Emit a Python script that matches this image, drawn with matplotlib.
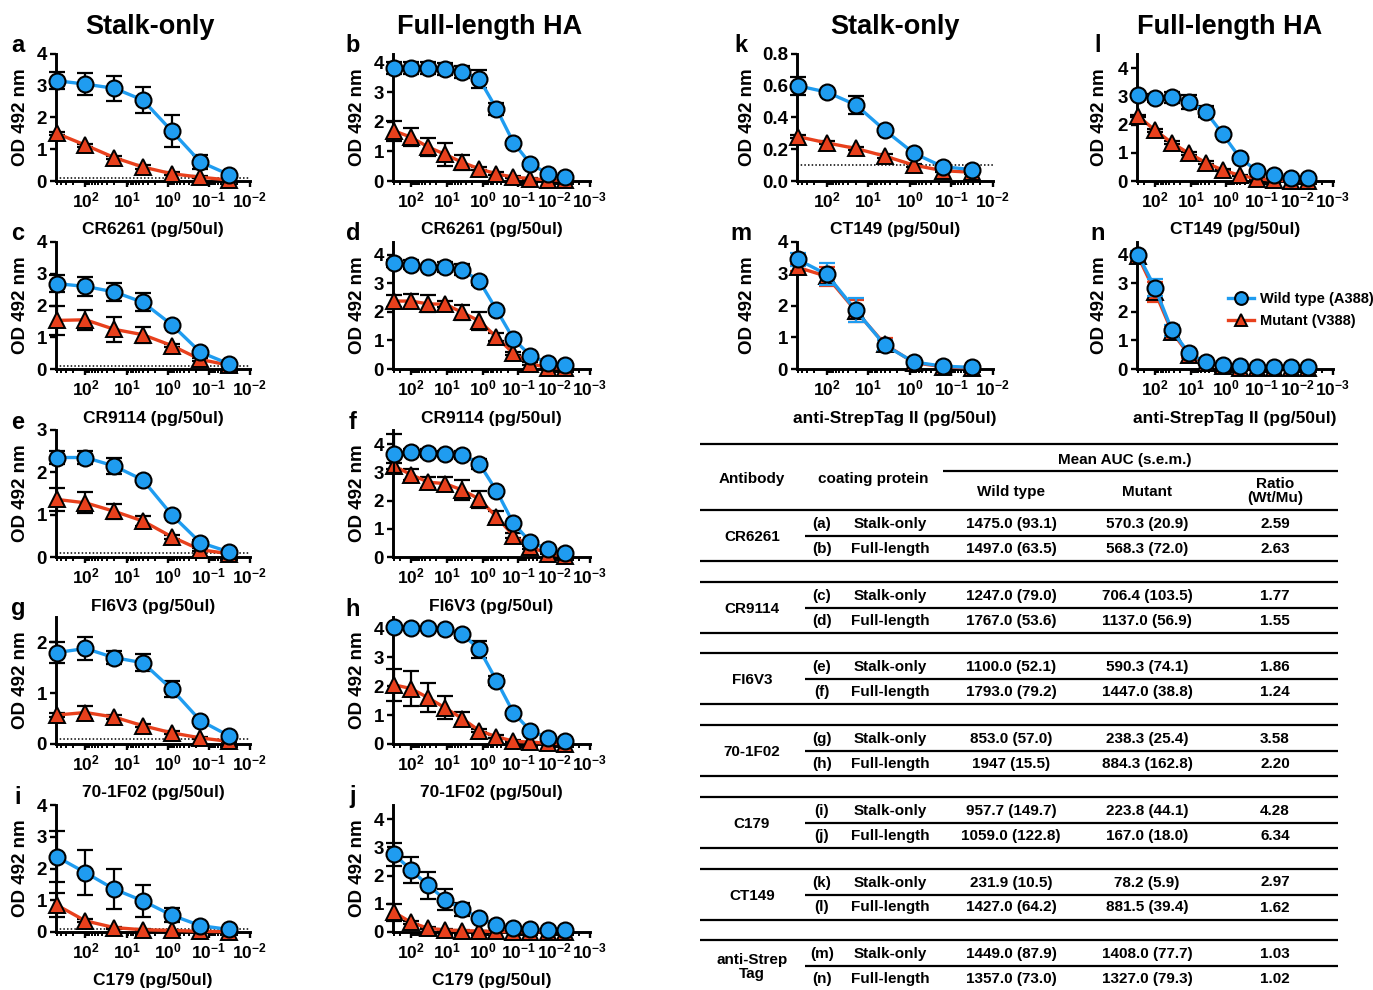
import numpy as np
import matplotlib
matplotlib.use("Agg")
import matplotlib.pyplot as plt
from matplotlib.ticker import LogLocator, FuncFormatter, NullFormatter

plt.rcParams['font.family'] = ['Liberation Sans', 'DejaVu Sans']
plt.rcParams['font.weight'] = 'bold'
plt.rcParams['mathtext.fontset'] = 'custom'
plt.rcParams['mathtext.rm'] = 'Liberation Sans:bold'
plt.rcParams['mathtext.bf'] = 'Liberation Sans:bold'
plt.rcParams['mathtext.it'] = 'Liberation Sans:bold:italic'
plt.rcParams['mathtext.default'] = 'rm'

# ---- data (OD 492 nm, mean and s.e.m.) ----
conc_stalk = [500, 100, 20, 4, 0.8, 0.16, 0.032]
conc_full = [300, 100, 33.3, 11.1, 3.7, 1.23, 0.41, 0.137, 0.046, 0.015, 0.0051]

wt_a = [3.16, 3.05, 2.92, 2.55, 1.58, 0.60, 0.20]
wt_a_err = [0.26, 0.34, 0.39, 0.42, 0.50, 0.23, 0.05]
mu_a = [1.50, 1.13, 0.74, 0.44, 0.23, 0.12, 0.03]
mu_a_err = [0.05, 0.05, 0.05, 0.05, 0.05, 0.03, 0.02]

wt_b = [3.82, 3.82, 3.82, 3.78, 3.70, 3.45, 2.45, 1.30, 0.58, 0.25, 0.13]
wt_b_err = [0.20, 0.20, 0.20, 0.20, 0.20, 0.30, 0.20, 0.05, 0.05, 0.03, 0.03]
mu_b = [1.70, 1.48, 1.15, 0.90, 0.63, 0.41, 0.24, 0.13, 0.08, 0.04, 0.02]
mu_b_err = [0.33, 0.30, 0.30, 0.40, 0.25, 0.05, 0.05, 0.03, 0.03, 0.02, 0.02]

wt_c = [2.69, 2.60, 2.43, 2.10, 1.40, 0.53, 0.16]
wt_c_err = [0.27, 0.30, 0.28, 0.28, 0.05, 0.05, 0.03]
mu_c = [1.53, 1.55, 1.25, 1.08, 0.74, 0.30, 0.12]
mu_c_err = [0.45, 0.32, 0.40, 0.25, 0.05, 0.05, 0.03]

wt_d = [3.70, 3.66, 3.57, 3.58, 3.48, 3.08, 2.08, 1.05, 0.47, 0.22, 0.13]
wt_d_err = [0.12, 0.15, 0.05, 0.18, 0.20, 0.15, 0.05, 0.05, 0.10, 0.03, 0.03]
mu_d = [2.38, 2.38, 2.28, 2.27, 1.98, 1.68, 1.12, 0.55, 0.18, 0.05, 0.02]
mu_d_err = [0.20, 0.25, 0.30, 0.10, 0.25, 0.30, 0.15, 0.05, 0.05, 0.02, 0.02]

wt_e = [2.35, 2.35, 2.15, 1.82, 1.00, 0.34, 0.12]
wt_e_err = [0.15, 0.15, 0.20, 0.05, 0.05, 0.05, 0.03]
mu_e = [1.36, 1.28, 1.08, 0.85, 0.48, 0.17, 0.08]
mu_e_err = [0.28, 0.25, 0.18, 0.12, 0.05, 0.04, 0.02]

wt_f = [3.66, 3.72, 3.68, 3.66, 3.62, 3.30, 2.35, 1.19, 0.53, 0.28, 0.14]
wt_f_err = [0.70, 0.10, 0.15, 0.10, 0.15, 0.18, 0.05, 0.05, 0.05, 0.03, 0.03]
mu_f = [3.22, 2.92, 2.65, 2.60, 2.37, 2.05, 1.42, 0.76, 0.35, 0.12, 0.03]
mu_f_err = [0.10, 0.20, 0.20, 0.25, 0.35, 0.30, 0.20, 0.10, 0.05, 0.02, 0.02]

wt_g = [1.80, 1.88, 1.70, 1.60, 1.08, 0.46, 0.16]
wt_g_err = [0.20, 0.22, 0.13, 0.17, 0.16, 0.04, 0.03]
mu_g = [0.57, 0.62, 0.53, 0.36, 0.22, 0.12, 0.05]
mu_g_err = [0.04, 0.12, 0.04, 0.03, 0.03, 0.02, 0.02]

wt_h = [4.05, 4.02, 4.02, 3.98, 3.80, 3.28, 2.20, 1.08, 0.46, 0.22, 0.11]
wt_h_err = [0.05, 0.05, 0.05, 0.05, 0.12, 0.30, 0.15, 0.05, 0.05, 0.03, 0.02]
mu_h = [2.05, 1.92, 1.60, 1.25, 0.88, 0.46, 0.25, 0.10, 0.06, 0.03, 0.01]
mu_h_err = [0.55, 0.60, 0.50, 0.40, 0.22, 0.05, 0.05, 0.03, 0.02, 0.02, 0.01]

wt_i = [2.37, 1.87, 1.35, 0.98, 0.53, 0.20, 0.08]
wt_i_err = [0.80, 0.72, 0.62, 0.50, 0.23, 0.05, 0.03]
mu_i = [0.85, 0.35, 0.14, 0.07, 0.05, 0.02, 0.01]
mu_i_err = [0.37, 0.05, 0.03, 0.02, 0.02, 0.01, 0.01]

wt_j = [2.75, 2.20, 1.65, 1.15, 0.80, 0.50, 0.25, 0.14, 0.09, 0.07, 0.07]
wt_j_err = [0.40, 0.45, 0.47, 0.37, 0.22, 0.05, 0.05, 0.03, 0.02, 0.02, 0.02]
mu_j = [0.70, 0.34, 0.13, 0.07, 0.05, 0.03, 0.02, 0.01, 0.01, 0.01, 0.01]
mu_j_err = [0.30, 0.05, 0.03, 0.02, 0.02, 0.01, 0.01, 0.01, 0.01, 0.01, 0.01]

wt_k = [0.600, 0.560, 0.480, 0.320, 0.175, 0.090, 0.072]
wt_k_err = [0.058, 0.010, 0.055, 0.010, 0.010, 0.010, 0.010]
mu_k = [0.280, 0.240, 0.205, 0.157, 0.100, 0.065, 0.055]
mu_k_err = [0.010, 0.010, 0.010, 0.010, 0.010, 0.010, 0.010]

wt_l = [3.05, 2.95, 2.97, 2.80, 2.45, 1.65, 0.82, 0.36, 0.20, 0.12, 0.10]
wt_l_err = [0.05, 0.15, 0.20, 0.25, 0.20, 0.05, 0.05, 0.03, 0.02, 0.02, 0.02]
mu_l = [2.30, 1.80, 1.35, 0.98, 0.65, 0.38, 0.20, 0.08, 0.03, 0.01, 0.01]
mu_l_err = [0.05, 0.05, 0.05, 0.05, 0.05, 0.03, 0.02, 0.02, 0.01, 0.01, 0.01]

wt_m = [3.45, 2.98, 1.85, 0.75, 0.22, 0.09, 0.05]
wt_m_err = [0.20, 0.35, 0.38, 0.15, 0.04, 0.03, 0.02]
mu_m = [3.20, 2.92, 1.83, 0.78, 0.20, 0.07, 0.03]
mu_m_err = [0.10, 0.30, 0.35, 0.20, 0.04, 0.02, 0.02]

wt_n = [4.00, 2.85, 1.35, 0.55, 0.24, 0.13, 0.09, 0.08, 0.08, 0.08, 0.08]
wt_n_err = [0.15, 0.30, 0.20, 0.10, 0.04, 0.02, 0.02, 0.02, 0.02, 0.02, 0.02]
mu_n = [3.95, 2.70, 1.30, 0.50, 0.20, 0.10, 0.05, 0.04, 0.03, 0.03, 0.02]
mu_n_err = [0.15, 0.35, 0.20, 0.10, 0.04, 0.02, 0.02, 0.02, 0.02, 0.02, 0.02]

antibodies_left = ['CR6261', 'CR9114', 'FI6V3', '70-1F02', 'C179']
antibodies_right = ['CT149', 'anti-StrepTag II']

# ---- table data ----
tab_antibody = ['CR6261', 'CR9114', 'FI6V3', '70-1F02', 'C179', 'CT149', 'anti-Strep\nTag']
tab_panel = ['(a)', '(b)', '(c)', '(d)', '(e)', '(f)', '(g)', '(h)', '(i)', '(j)', '(k)', '(l)', '(m)', '(n)']
tab_coating = ['Stalk-only', 'Full-length']
tab_wt = ['1475.0 (93.1)', '1497.0 (63.5)', '1247.0 (79.0)', '1767.0 (53.6)', '1100.0 (52.1)',
          '1793.0 (79.2)', '853.0 (57.0)', '1947 (15.5)', '957.7 (149.7)', '1059.0 (122.8)',
          '231.9 (10.5)', '1427.0 (64.2)', '1449.0 (87.9)', '1357.0 (73.0)']
tab_mu = ['570.3 (20.9)', '568.3 (72.0)', '706.4 (103.5)', '1137.0 (56.9)', '590.3 (74.1)',
          '1447.0 (38.8)', '238.3 (25.4)', '884.3 (162.8)', '223.8 (44.1)', '167.0 (18.0)',
          '78.2 (5.9)', '881.5 (39.4)', '1408.0 (77.7)', '1327.0 (79.3)']
tab_ratio = ['2.59', '2.63', '1.77', '1.55', '1.86', '1.24', '3.58', '2.20', '4.28', '6.34',
             '2.97', '1.62', '1.03', '1.02']

BLUE = '#1f9cf0'
RED = '#e8401c'
W, H = 1373, 990

fig = plt.figure(figsize=(W / 100, H / 100), dpi=100)
fig.patch.set_facecolor('white')

col_x = [(56, 250), (393, 590), (797, 993), (1137, 1333)]
col_ylab = [21, 357, 748, 1100]
col_letter = [18, 353, 741, 1098]
row_top = [54, 242, 430, 617, 805]
AX_H = 127


def exp_fmt(v, pos):
    return r'$\mathrm{10^{%d}}$' % int(round(np.log10(v)))


def panel(col, row, conc, wt, wt_err, mu, mu_err, ymax, yticks, ytl, xlabel, letter,
          cutoff=True, err_col=False):
    x0, x1 = col_x[col]
    y0 = row_top[row]
    ax = fig.add_axes([x0 / W, 1 - (y0 + AX_H) / H, (x1 - x0) / W, AX_H / H])
    ax.set_xscale('log')
    full = len(conc) > 7
    ax.set_xlim(conc[0] * (1.07 if full else 1.04), 0.00099 if full else 0.0099)
    ax.set_ylim(0, ymax)
    ax.set_yticks(yticks)
    ax.set_yticklabels(ytl)
    ax.xaxis.set_major_locator(LogLocator(base=10, numticks=20))
    ax.xaxis.set_minor_locator(LogLocator(base=10, subs=np.arange(2, 10), numticks=20))
    ax.xaxis.set_major_formatter(FuncFormatter(exp_fmt))
    ax.xaxis.set_minor_formatter(NullFormatter())
    for s in ['top', 'right']:
        ax.spines[s].set_visible(False)
    for s in ['left', 'bottom']:
        ax.spines[s].set_linewidth(2.1)
    ax.tick_params(axis='x', which='major', direction='out', length=4.5, width=1.7,
                   labelsize=12.5, pad=2.5)
    ax.tick_params(axis='x', which='minor', direction='out', length=2.6, width=1.4)
    ax.tick_params(axis='y', direction='out', length=4.5, width=1.7, labelsize=13.5, pad=2)
    for t in ax.get_yticklabels():
        t.set_fontweight('bold')
    ax.patch.set_alpha(0)

    if cutoff:
        ax.axhline(0.1, color='k', lw=1.1, ls=(0, (1, 1.4)), zorder=1)

    ec_mu = RED if err_col else 'k'
    ec_wt = BLUE if err_col else 'k'
    ax.errorbar(conc, mu, yerr=mu_err, fmt='none', ecolor=ec_mu, elinewidth=1.6,
                capsize=5.5, capthick=1.6, zorder=2, clip_on=False)
    lm, = ax.plot(conc, mu, color=RED, lw=2.4, marker='^', ms=11, mfc=RED, mec='k',
                  mew=1.4, zorder=3, clip_on=False)
    ax.errorbar(conc, wt, yerr=wt_err, fmt='none', ecolor=ec_wt, elinewidth=1.6,
                capsize=5.5, capthick=1.6, zorder=4, clip_on=False)
    lw_, = ax.plot(conc, wt, color=BLUE, lw=2.4, marker='o', ms=11.5, mfc=BLUE, mec='k',
                   mew=1.5, zorder=5, clip_on=False)

    fig.text(col_ylab[col] / W, 1 - (y0 + AX_H / 2) / H, 'OD 492 nm', rotation=90,
             ha='center', va='center', fontsize=13.5, fontweight='bold')
    fig.text((x0 + x1) / 2 / W, 1 - (y0 + AX_H + 49) / H, xlabel,
             ha='center', va='center', fontsize=12.5, fontweight='bold')
    fig.text(col_letter[col] / W, 1 - (y0 - 8) / H, letter,
             ha='center', va='center', fontsize=17, fontweight='bold')
    return ax, lw_, lm


int4 = ['0', '1', '2', '3', '4']
panel(0, 0, conc_stalk, wt_a, wt_a_err, mu_a, mu_a_err, 4.0, [0, 1, 2, 3, 4], int4,
      antibodies_left[0] + ' (pg/50ul)', 'a')
panel(1, 0, conc_full, wt_b, wt_b_err, mu_b, mu_b_err, 4.3, [0, 1, 2, 3, 4], int4,
      antibodies_left[0] + ' (pg/50ul)', 'b', cutoff=False)
panel(0, 1, conc_stalk, wt_c, wt_c_err, mu_c, mu_c_err, 4.0, [0, 1, 2, 3, 4], int4,
      antibodies_left[1] + ' (pg/50ul)', 'c')
panel(1, 1, conc_full, wt_d, wt_d_err, mu_d, mu_d_err, 4.45, [0, 1, 2, 3, 4], int4,
      antibodies_left[1] + ' (pg/50ul)', 'd', cutoff=False)
panel(0, 2, conc_stalk, wt_e, wt_e_err, mu_e, mu_e_err, 3.0, [0, 1, 2, 3], int4[:4],
      antibodies_left[2] + ' (pg/50ul)', 'e')
panel(1, 2, conc_full, wt_f, wt_f_err, mu_f, mu_f_err, 4.5, [0, 1, 2, 3, 4], int4,
      antibodies_left[2] + ' (pg/50ul)', 'f', cutoff=False)
panel(0, 3, conc_stalk, wt_g, wt_g_err, mu_g, mu_g_err, 2.5, [0, 1, 2], int4[:3],
      antibodies_left[3] + ' (pg/50ul)', 'g')
panel(1, 3, conc_full, wt_h, wt_h_err, mu_h, mu_h_err, 4.4, [0, 1, 2, 3, 4], int4,
      antibodies_left[3] + ' (pg/50ul)', 'h', cutoff=False)
panel(0, 4, conc_stalk, wt_i, wt_i_err, mu_i, mu_i_err, 4.0, [0, 1, 2, 3, 4], int4,
      antibodies_left[4] + ' (pg/50ul)', 'i')
panel(1, 4, conc_full, wt_j, wt_j_err, mu_j, mu_j_err, 4.5, [0, 1, 2, 3, 4], int4,
      antibodies_left[4] + ' (pg/50ul)', 'j', cutoff=False)
panel(2, 0, conc_stalk, wt_k, wt_k_err, mu_k, mu_k_err, 0.8, [0, 0.2, 0.4, 0.6, 0.8],
      ['0.0', '0.2', '0.4', '0.6', '0.8'], antibodies_right[0] + ' (pg/50ul)', 'k')
panel(3, 0, conc_full, wt_l, wt_l_err, mu_l, mu_l_err, 4.5, [0, 1, 2, 3, 4], int4,
      antibodies_right[0] + ' (pg/50ul)', 'l', cutoff=False)
panel(2, 1, conc_stalk, wt_m, wt_m_err, mu_m, mu_m_err, 4.0, [0, 1, 2, 3, 4], int4,
      antibodies_right[1] + ' (pg/50ul)', 'm', cutoff=False, err_col=True)
ax_n, h_wt, h_mu = panel(3, 1, conc_full, wt_n, wt_n_err, mu_n, mu_n_err, 4.45,
                         [0, 1, 2, 3, 4], int4, antibodies_right[1] + ' (pg/50ul)', 'n',
                         cutoff=False, err_col=True)

ax_n.legend([h_wt, h_mu], ['Wild type (A388)', 'Mutant (V388)'], loc='center left',
            bbox_to_anchor=(1228 / W, 1 - 310 / H), bbox_transform=fig.transFigure,
            frameon=False, handlelength=1.8, handletextpad=0.4,
            labelspacing=0.55, borderpad=0, borderaxespad=0, markerscale=0.8,
            prop={'weight': 'bold', 'size': 10.5})

# column headers
for cx, title in zip([150, 490, 895, 1230], ['Stalk-only', 'Full-length HA', 'Stalk-only', 'Full-length HA']):
    fig.text(cx / W, 1 - 27 / H, title, ha='center', va='center', fontsize=19.5,
             fontweight='bold')

# ---- table ----
tab = fig.add_axes([0, 0, 1, 1])
tab.set_xlim(0, W)
tab.set_ylim(H, 0)
tab.axis('off')
tab.patch.set_alpha(0)
LW = 1.6
TX0, TX1 = 700, 1338
fs = 11
tab.hlines(444, TX0, TX1, color='k', lw=LW)
tab.text(1125, 460, 'Mean AUC (s.e.m.)', ha='center', va='center', fontsize=fs, fontweight='bold')
tab.hlines(471, 943, TX1, color='k', lw=LW)
tab.text(752, 479, 'Antibody', ha='center', va='center', fontsize=fs, fontweight='bold')
tab.text(873, 479, 'coating protein', ha='center', va='center', fontsize=fs, fontweight='bold')
tab.text(1011, 492, 'Wild type', ha='center', va='center', fontsize=fs, fontweight='bold')
tab.text(1147, 492, 'Mutant', ha='center', va='center', fontsize=fs, fontweight='bold')
tab.text(1275, 491, 'Ratio\n(Wt/Mu)', ha='center', va='center', fontsize=fs,
         fontweight='bold', linespacing=1.0)

for g, name in enumerate(tab_antibody):
    top = 510 + 71.7 * g
    tab.hlines(top, TX0, TX1, color='k', lw=LW)
    tab.hlines(top + 26, 805, TX1, color='k', lw=LW)
    tab.hlines(top + 51, TX0, TX1, color='k', lw=LW)
    tab.text(752, top + 27, name, ha='center', va='center', fontsize=fs,
             fontweight='bold', linespacing=1.05)
    for r in range(2):
        k = 2 * g + r
        y = top + 14 + 25 * r
        tab.text(822, y, tab_panel[k], ha='center', va='center', fontsize=fs, fontweight='bold')
        tab.text(890, y, tab_coating[r], ha='center', va='center', fontsize=fs, fontweight='bold')
        tab.text(1011, y, tab_wt[k], ha='center', va='center', fontsize=fs, fontweight='bold')
        tab.text(1147, y, tab_mu[k], ha='center', va='center', fontsize=fs, fontweight='bold')
        tab.text(1275, y, tab_ratio[k], ha='center', va='center', fontsize=fs, fontweight='bold')

fig.savefig('out.png', dpi=100, facecolor='white')
